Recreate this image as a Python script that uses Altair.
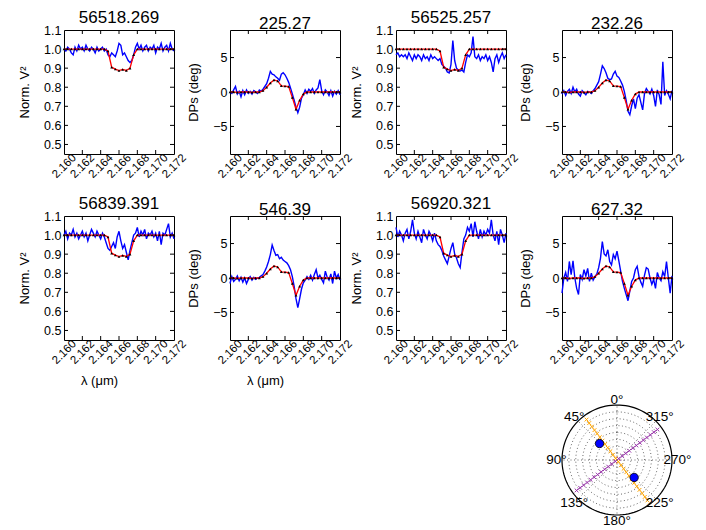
import altair as alt
import numpy as np
import pandas as pd

FONT = "Liberation Sans"

# ---------------- data ----------------
# wavelength sampling grids (micron)
lam_obs = np.round(np.linspace(2.160, 2.172, 61), 5)
lam_mod = np.round(np.linspace(2.160, 2.172, 31), 5)

v2_model = [1.0, 1.0, 1.0, 1.0, 1.0, 1.0, 1.0, 1.0, 1.0, 1.0, 1.0, 1.0,
            0.99, 0.905, 0.895, 0.887, 0.893, 0.888, 0.90, 0.97,
            1.0, 1.0, 1.0, 1.0, 1.0, 1.0, 1.0, 1.0, 1.0, 1.0, 1.0]
dp_model = [0.0, 0.0, -0.05, 0.0, 0.0, 0.0, -0.05, 0.0, 0.0, 0.2,
            0.7, 1.3, 1.75, 1.6, 0.9, 0.85, 0.8, -0.8, -2.5, -1.2,
            -0.3, 0.0, 0.0, 0.0, 0.0, 0.0, 0.0, 0.0, 0.0, 0.0, 0.0]

obs_1 = [1.00, 0.99, 1.01, 1.00, 0.98, 0.97, 1.01, 0.99, 1.02, 1.00,
         1.01, 0.99, 1.02, 1.00, 0.99, 1.01, 1.00, 0.98, 1.01, 0.99,
         1.00, 1.01, 0.99, 1.00, 0.97, 0.96, 0.98, 0.97, 0.96, 0.99,
         1.03, 1.02, 0.97, 0.98, 0.96, 0.94, 0.93, 0.94, 0.97, 1.01,
         1.03, 1.00, 1.02, 0.99, 1.01, 1.02, 0.99, 1.01, 1.00, 1.02,
         0.98, 1.01, 1.00, 1.03, 0.99, 1.01, 1.02, 0.99, 1.03, 1.00, 0.99]
obs_2 = [0.0, -0.2, 0.3, 0.8, -0.3, 0.1, -0.7, 0.2, -0.4, 0.3,
         -0.2, 0.1, -0.3, 0.2, 0.0, -0.2, 0.3, 0.1, 0.4, 0.8,
         1.2, 2.0, 3.0, 2.6, 2.5, 2.2, 2.0, 1.7, 2.6, 2.8,
         2.5, 2.0, 1.4, 0.6, -0.3, -1.2, -2.2, -3.0, -2.2, -0.9,
         -0.4, 0.3, -0.2, 0.4, 0.1, 0.5, -0.2, 0.3, 0.6, 1.8,
         0.2, -0.4, 0.3, 0.0, -0.5, 0.2, -0.6, 0.1, -0.3, 0.2, -0.4]
obs_3 = [0.97, 0.98, 0.96, 0.97, 0.96, 0.97, 0.95, 0.98, 0.96, 0.94,
         0.97, 0.95, 0.97, 0.96, 0.94, 0.97, 0.95, 0.96, 0.94, 0.97,
         0.95, 0.96, 0.95, 0.94, 0.95, 0.92, 0.91, 0.90, 0.88, 0.875,
         0.92, 1.045, 0.94, 0.90, 0.89, 0.885, 0.89, 0.88, 0.93, 0.97,
         0.96, 0.98, 1.065, 0.96, 0.95, 0.97, 0.94, 0.96, 0.95, 0.97,
         0.94, 0.96, 0.93, 0.88, 0.95, 0.97, 0.93, 0.96, 0.98, 0.95, 0.97]
obs_4 = [-0.3, 0.2, -0.5, 0.1, 0.4, -0.2, 0.7, 0.0, 0.4, -0.3,
         -0.6, 0.2, -0.1, -0.4, 0.1, 0.0, -0.2, 0.2, 0.5, 1.0,
         1.5, 2.6, 3.8, 3.4, 2.8, 2.0, 1.8, 1.9, 2.6, 3.0,
         2.3, 2.1, 1.6, 1.0, 0.1, -1.2, -2.8, -3.3, -2.0, -1.0,
         -2.4, -0.9, -0.4, -1.5, -2.6, -0.2, 0.5, 0.1, -0.3, 0.4,
         -0.5, -2.1, 0.3, -0.4, -1.8, 4.4, -0.5, 0.2, -0.3, -1.0, 0.2]
obs_5 = [1.00, 1.02, 0.98, 1.01, 1.00, 1.03, 0.99, 1.01, 0.98, 1.00,
         1.02, 0.99, 1.01, 0.97, 1.00, 1.03, 1.01, 0.99, 1.02, 1.00,
         0.98, 1.01, 0.99, 0.96, 0.93, 0.92, 0.94, 0.96, 0.93, 0.99,
         1.02, 0.97, 0.93, 0.95, 0.91, 0.87, 0.92, 0.96, 1.00, 1.01,
         1.04, 0.99, 1.02, 1.00, 1.03, 0.98, 1.01, 1.00, 1.02, 0.99,
         1.01, 0.97, 1.02, 0.95, 1.01, 1.00, 1.03, 1.06, 0.99, 1.01, 0.98]
obs_6 = [-0.8, 0.2, -0.5, -0.2, 0.3, -0.4, 0.1, -0.6, 0.0, -0.8,
         -0.2, 0.2, -0.3, 0.1, -0.2, 0.0, 0.1, 0.3, 0.5, 1.0,
         1.6, 2.4, 3.4, 4.8, 4.0, 3.3, 3.4, 2.8, 3.0, 2.6,
         2.4, 2.2, 1.8, 1.2, 0.2, -1.2, -3.0, -4.3, -3.0, -1.6,
         -0.7, -0.3, 0.2, -0.2, 0.4, -0.3, 0.5, 1.2, 0.0, 0.4,
         -0.2, -0.7, 1.0, 0.1, -0.3, 0.6, -0.8, 1.0, 0.0, 0.5, -0.3]
obs_7 = [1.04, 0.99, 1.02, 1.00, 0.97, 1.01, 1.03, 0.98, 1.02, 1.08,
         1.01, 0.98, 1.02, 0.99, 0.96, 1.03, 1.00, 0.98, 1.02, 1.00,
         0.97, 1.01, 0.97, 0.95, 0.94, 0.92, 0.89, 0.87, 0.85, 0.89,
         0.93, 0.96, 0.90, 0.88, 0.85, 0.83, 0.91, 0.98, 1.00, 1.04,
         1.02, 1.06, 0.99, 1.07, 1.02, 0.98, 1.03, 0.99, 1.02, 1.00,
         1.03, 1.01, 1.08, 1.00, 0.97, 1.02, 0.95, 1.03, 1.00, 0.96, 1.01]
obs_8 = [-2.2, 0.0, 0.8, -0.5, 2.4, 0.5, 2.5, 0.0, -1.5, -2.4,
         0.5, -0.2, 1.2, 0.3, 1.4, -0.5, 0.7, -0.3, 0.2, 0.6,
         1.5, 2.9, 5.3, 3.5, 3.2, 4.1, 2.4, 1.9, 3.4, 2.8,
         3.9, 2.5, 1.0, -0.5, -1.5, -2.4, -3.3, -1.9, -0.5, 0.0,
         1.2, 1.7, 0.2, -0.6, -1.2, 0.4, 1.5, 1.3, 0.0, -0.9,
         -0.2, -1.5, 0.8, 0.0, -0.4, 0.9, 0.2, 2.4, 0.0, -2.2, 0.3]

titles = ["56518.269", "225.27", "56525.257", "232.26",
          "56839.391", "546.39", "56920.321", "627.32"]
kinds = ["v2", "dp", "v2", "dp", "v2", "dp", "v2", "dp"]
observations = [obs_1, obs_2, obs_3, obs_4, obs_5, obs_6, obs_7, obs_8]

x_label_vals = [2.160, 2.162, 2.164, 2.166, 2.168, 2.170, 2.172]
x_inner_ticks = [2.162, 2.164, 2.166, 2.168, 2.170]
v2_label_vals = [0.5, 0.6, 0.7, 0.8, 0.9, 1.0, 1.1]
v2_inner_ticks = [0.5, 0.6, 0.7, 0.8, 0.9, 1.0]
dp_label_vals = [-5, 0, 5]

# polar panel values
pa_labels = [0, 45, 90, 135, 180, 225, 270, 315]
pa_label_text = ["0°", "45°", "90°", "135°", "180°", "225°", "270°", "315°"]
ring_radii = [0.125, 0.25, 0.375, 0.5, 0.625, 0.75, 0.875]
pa_orange = 37.0
pa_purple = 127.0
line_r = [-0.92, -0.84, -0.76, -0.68, -0.60, -0.52, -0.44, -0.36, -0.28, -0.20,
          -0.12, -0.04, 0.04, 0.12, 0.20, 0.28, 0.36, 0.44, 0.52, 0.60,
          0.68, 0.76, 0.84, 0.92]
dot_pa = [46.7, 224.5]
dot_r = [0.437, 0.445]

# ---------------- layout ----------------
W, H = 110, 124
SP_X, SP_Y = 56, 62
TICK = 4


def panel(kind, obs, title, xtitle):
    if kind == "v2":
        model, ydom, ylabels, yinner = v2_model, [0.45, 1.1], v2_label_vals, v2_inner_ticks
        ytitle, yfmt = "Norm. V²", ".1f"
    else:
        model, ydom, ylabels, yinner = dp_model, [-9, 9], dp_label_vals, dp_label_vals
        ytitle, yfmt = "DPs (deg)", "d"

    xax = dict(values=x_label_vals, format=".3f", labelAngle=315, labelAlign="center",
               labelBaseline="middle", labelPadding=12, labelFontSize=11.5,
               labelOverlap=False, labelFlush=False, ticks=False, domain=False, grid=False)
    if xtitle:
        xax.update(title="λ (μm)", titleFontSize=13, titlePadding=8, titleX=35)
    else:
        xax["title"] = None
    yax = alt.Axis(values=ylabels, format=yfmt, labelPadding=3, labelFontSize=12.5,
                   ticks=False, domain=False, grid=False, title=ytitle,
                   titleFontSize=13, titlePadding=12, labelOverlap=False, labelFlush=False)

    X = alt.X("lam:Q", scale=alt.Scale(domain=[2.160, 2.172], nice=False, zero=False),
              axis=alt.Axis(**xax))
    Y = alt.Y("v:Q", scale=alt.Scale(domain=ydom, nice=False, zero=False), axis=yax)

    d_obs = pd.DataFrame({"lam": lam_obs, "v": obs})
    d_mod = pd.DataFrame({"lam": lam_mod, "v": model})
    d_xt = pd.DataFrame({"lam": x_inner_ticks})
    d_yt = pd.DataFrame({"v": yinner})

    blue = alt.Chart(d_obs).mark_line(color="blue", strokeWidth=1.4).encode(x=X, y=Y)
    red = alt.Chart(d_mod).mark_line(color="red", strokeWidth=1.3).encode(x=X, y=Y)
    tri = alt.Chart(d_mod).mark_point(shape="triangle-up", filled=True, color="black",
                                      size=8, opacity=1).encode(x=X, y=Y)
    xt_b = alt.Chart(d_xt).mark_rule(color="black").encode(
        x=X, y=alt.value(H), y2=alt.value(H - TICK))
    xt_t = alt.Chart(d_xt).mark_rule(color="black").encode(
        x=X, y=alt.value(0), y2=alt.value(TICK))
    yt_l = alt.Chart(d_yt).mark_rule(color="black").encode(
        y=Y, x=alt.value(0), x2=alt.value(TICK))
    yt_r = alt.Chart(d_yt).mark_rule(color="black").encode(
        y=Y, x=alt.value(W), x2=alt.value(W - TICK))

    return alt.layer(blue, red, tri, xt_b, xt_t, yt_l, yt_r).properties(
        width=W, height=H,
        title=alt.TitleParams(title, fontSize=17, fontWeight="normal", font=FONT,
                              offset=-3, frame="group"))


panels = [panel(kinds[i], observations[i], titles[i], i in (4, 5)) for i in range(8)]

# ---------------- polar panel (4th column, 3rd row) ----------------
R = 55.0
top_off = 58.0
H3 = 113
xdom = [-(W / 2) / R, (W / 2) / R]
ydom = [-(H3 - top_off) / R, top_off / R]


def to_xy(pa, r):
    a = np.deg2rad(np.asarray(pa, dtype=float))
    r = np.asarray(r, dtype=float)
    return -r * np.sin(a), r * np.cos(a)


PX = alt.X("x:Q", scale=alt.Scale(domain=xdom, nice=False, zero=False), axis=None)
PY = alt.Y("y:Q", scale=alt.Scale(domain=ydom, nice=False, zero=False), axis=None)

th = np.arange(0, 361, 3)
ring_rows = []
for rr in ring_radii:
    xx, yy = to_xy(th, rr)
    ring_rows.append(pd.DataFrame({"x": xx, "y": yy, "ring": rr, "k": np.arange(len(th))}))
d_rings = pd.concat(ring_rows)
xo, yo = to_xy(th, 1.0)
d_outer = pd.DataFrame({"x": xo, "y": yo, "k": np.arange(len(th))})

sx, sy = to_xy(pa_labels, 1.0)
d_spokes = pd.DataFrame({"x": np.zeros(8), "y": np.zeros(8), "x2": sx, "y2": sy})

lx, ly = to_xy(pa_labels, 1.1)
d_lab = pd.DataFrame({"x": lx, "y": ly, "t": pa_label_text})

ox, oy = to_xy(np.full(len(line_r), pa_orange), line_r)
d_or = pd.DataFrame({"x": ox, "y": oy, "k": np.arange(len(line_r))})
px_, py_ = to_xy(np.full(len(line_r), pa_purple), line_r)
d_pu = pd.DataFrame({"x": px_, "y": py_, "k": np.arange(len(line_r))})
bx, by = to_xy(dot_pa, dot_r)
d_dot = pd.DataFrame({"x": bx, "y": by})

XMARK = "M -1 -1 L 1 1 M -1 1 L 1 -1"

rings = alt.Chart(d_rings).mark_line(color="#444444", strokeWidth=0.8, strokeDash=[1, 2.5]).encode(
    x=PX, y=PY, detail="ring:N", order="k:Q")
spokes = alt.Chart(d_spokes).mark_rule(color="#444444", strokeWidth=0.8, strokeDash=[1, 2.5]).encode(
    x=PX, y=PY, x2="x2:Q", y2="y2:Q")
outer = alt.Chart(d_outer).mark_line(color="black", strokeWidth=1.2).encode(x=PX, y=PY, order="k:Q")
or_line = alt.Chart(d_or).mark_line(color="orange", strokeWidth=0.8, strokeDash=[1, 1.5]).encode(
    x=PX, y=PY, order="k:Q")
or_pts = alt.Chart(d_or).mark_point(shape=XMARK, filled=False, color="orange", size=14,
                                    strokeWidth=1, opacity=1).encode(x=PX, y=PY)
pu_line = alt.Chart(d_pu).mark_line(color="#9933aa", strokeWidth=0.8, strokeDash=[1, 1.5]).encode(
    x=PX, y=PY, order="k:Q")
pu_pts = alt.Chart(d_pu).mark_point(shape=XMARK, filled=False, color="#9933aa", size=14,
                                    strokeWidth=1, opacity=1).encode(x=PX, y=PY)
dots = alt.Chart(d_dot).mark_point(shape="circle", filled=True, fill="blue", stroke="black",
                                   strokeWidth=0.8, size=70, opacity=1).encode(x=PX, y=PY)
labels = alt.Chart(d_lab).mark_text(font=FONT, fontSize=13.5, align="center",
                                    baseline="middle", color="black").encode(x=PX, y=PY, text="t:N")

polar = alt.layer(rings, spokes, outer, or_line, pu_line, or_pts, pu_pts, dots, labels).properties(
    width=W, height=H3, view=alt.ViewBackground(strokeOpacity=0, strokeWidth=0))


def blank():
    return alt.Chart(pd.DataFrame({"x": [0.0], "y": [0.0]})).mark_point(opacity=0).encode(
        x=alt.X("x:Q", axis=None), y=alt.Y("y:Q", axis=None)
    ).properties(width=W, height=H3, view=alt.ViewBackground(strokeOpacity=0, strokeWidth=0))


cells = panels + [blank(), blank(), blank(), polar]

chart = alt.concat(
    *cells, columns=4, spacing={"row": SP_Y, "column": SP_X}, bounds="flush"
).properties(
    padding={"left": 10, "top": 0, "right": 0, "bottom": 0}
).configure_view(
    stroke="black", strokeWidth=1
).configure_axis(
    labelFont=FONT, titleFont=FONT, labelColor="black", titleColor="black",
    titleFontWeight="normal"
).configure_title(font=FONT, color="black", fontWeight="normal")

chart.save("out.html", embed_options={"renderer": "svg", "actions": False})
